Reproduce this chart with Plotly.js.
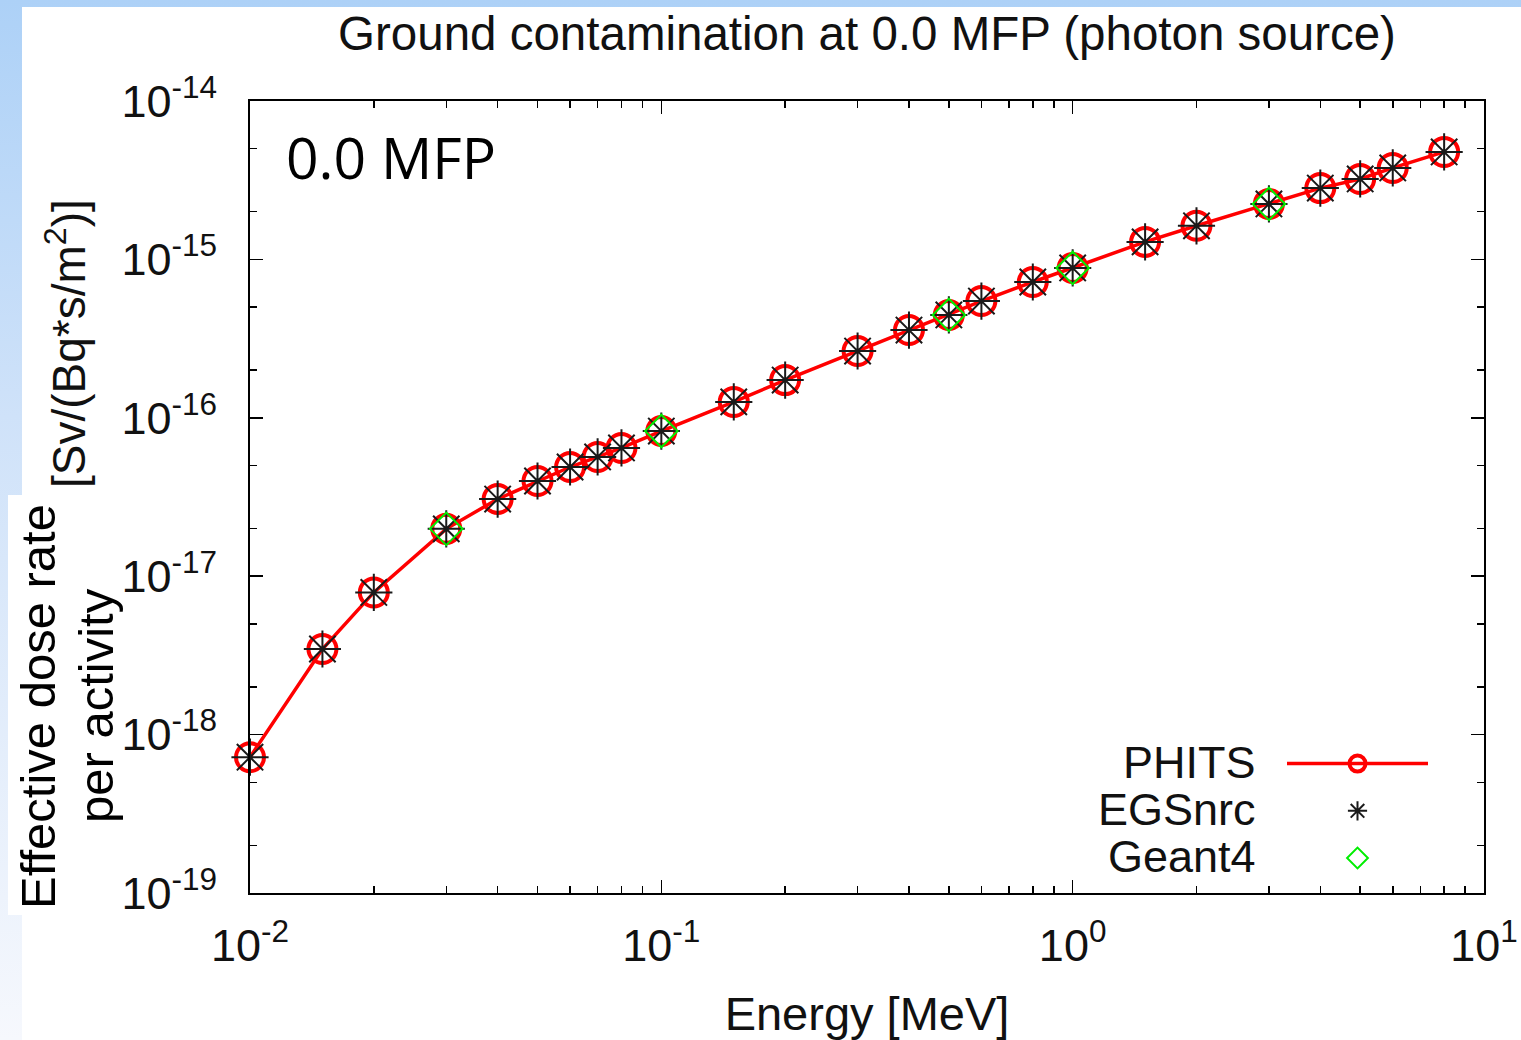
<!DOCTYPE html>
<html>
<head>
<meta charset="utf-8">
<script src="https://cdn.plot.ly/plotly-3.0.1.min.js"></script>
<style>
  html, body { margin: 0; padding: 0; width: 1521px; height: 1040px; overflow: hidden;
    background: linear-gradient(to bottom, #add1f7 0%, #cfe2f9 40%, #f6f8fd 100%); }
  #sheet { position: absolute; left: 22px; top: 7px; width: 1499px; height: 1033px; background: #ffffff; }
  #chart { position: absolute; left: 0; top: 0; width: 1521px; height: 1040px; }
</style>
</head>
<body>
<div id="sheet"></div>
<div id="chart"></div>
<script>
// ---- data ----
const energy = [0.01, 0.015, 0.02, 0.03, 0.04, 0.05, 0.06, 0.07, 0.08, 0.1, 0.15, 0.2, 0.3, 0.4, 0.5, 0.6, 0.8, 1.0, 1.5, 2, 3, 4, 5, 6, 8];
const phits = [7.2e-19, 3.47e-18, 7.9e-18, 1.99e-17, 3.07e-17, 3.99e-17, 4.89e-17, 5.66e-17, 6.45e-17, 8.25e-17, 1.26e-16, 1.73e-16, 2.64e-16, 3.58e-16, 4.46e-16, 5.46e-16, 7.2e-16, 8.83e-16, 1.29e-15, 1.63e-15, 2.24e-15, 2.82e-15, 3.22e-15, 3.78e-15, 4.77e-15];
const egsnrc = [7.2e-19, 3.47e-18, 7.9e-18, 1.99e-17, 3.07e-17, 3.99e-17, 4.89e-17, 5.66e-17, 6.45e-17, 8.25e-17, 1.26e-16, 1.73e-16, 2.64e-16, 3.58e-16, 4.46e-16, 5.46e-16, 7.2e-16, 8.83e-16, 1.29e-15, 1.63e-15, 2.24e-15, 2.82e-15, 3.22e-15, 3.78e-15, 4.77e-15];
const geantEnergy = [0.03, 0.1, 0.5, 1.0, 3.0];
const geant4 = [1.99e-17, 8.25e-17, 4.46e-16, 8.83e-16, 2.24e-15];
const seriesNames = ["PHITS", "EGSnrc", "Geant4"];
const xTickVals = [0.01, 0.1, 1, 10];
const xTickText = ["10<sup>-2</sup>", "10<sup>-1</sup>", "10<sup>0</sup>", "10<sup>1</sup>"];
const yTickVals = [1e-19, 1e-18, 1e-17, 1e-16, 1e-15, 1e-14];
const yTickText = ["10<sup>-19</sup>", "10<sup>-18</sup>", "10<sup>-17</sup>", "10<sup>-16</sup>", "10<sup>-15</sup>", "10<sup>-14</sup>"];
const titleText = "Ground contamination at 0.0 MFP (photon source)";
const xTitle = "Energy [MeV]";
const yTitle = "[Sv/(Bq*s/m<sup>2</sup>)]";
const overlayLine1 = "Effective dose rate";
const overlayLine2 = "per activity";
const panelLabel = "0.0 MFP";

// ---- figure ----
const FONT = "Liberation Sans, Arial, Helvetica, sans-serif";
const INK = "#111111";
const W = 1521, H = 1040, L = 250, R = 37, T = 101, B = 147;
const pw = W - L - R, ph = H - T - B;
const px = v => (v - L) / pw;       // pixel x -> paper x
const py = v => (H - B - v) / ph;   // pixel y -> paper y

const traces = [
  { x: energy, y: phits, name: "\u00a0", type: "scatter", mode: "lines+markers", cliponaxis: false,
    line: { color: "#ff0000", width: 3.5 },
    marker: { symbol: "circle-open", size: 28, color: "#ff0000", line: { width: 4, color: "#ff0000" } } },
  { x: energy, y: egsnrc, name: "\u00a0", type: "scatter", mode: "markers", cliponaxis: false,
    marker: { symbol: "asterisk-open", size: 31, color: "#1a1a1a", line: { width: 2, color: "#1a1a1a" } } },
  { x: geantEnergy, y: geant4, name: "\u00a0", type: "scatter", mode: "markers", cliponaxis: false,
    marker: { symbol: "diamond-open", size: 25, color: "#00ee00", line: { width: 2, color: "#00ee00" } } }
];

const axisCommon = {
  type: "log", showline: true, linecolor: "#000", linewidth: 2, mirror: "ticks",
  ticks: "inside", ticklen: 13, tickwidth: 1.5, tickcolor: "#000",
  showgrid: false, zeroline: false, tickmode: "array",
  tickfont: { family: FONT, size: 45, color: INK }
};

const layout = {
  width: W, height: H,
  margin: { l: L, r: R, t: T, b: B },
  paper_bgcolor: "rgba(0,0,0,0)", plot_bgcolor: "#ffffff",
  showlegend: true,
  title: { text: titleText, font: { family: FONT, size: 47.5, color: INK },
    xref: "paper", x: 0.5, xanchor: "center", yref: "container", y: 1 - 33 / H, yanchor: "middle" },
  xaxis: Object.assign({}, axisCommon, {
    range: [-2, 1], tickvals: xTickVals, ticktext: xTickText, ticklabelstandoff: 12,
    minor: { dtick: "D1", ticks: "inside", ticklen: 7, tickwidth: 1.5, tickcolor: "#000", showgrid: false },
    title: { text: xTitle, font: { family: FONT, size: 47, color: INK }, standoff: 28 }
  }),
  yaxis: Object.assign({}, axisCommon, {
    range: [-19, -14], tickvals: yTickVals, ticktext: yTickText, ticklabelstandoff: 22,
    minor: { dtick: "D2", ticks: "inside", ticklen: 7, tickwidth: 1.5, tickcolor: "#000", showgrid: false }
  }),
  legend: { x: px(1282), y: py(735), xanchor: "left", yanchor: "top",
    bgcolor: "rgba(0,0,0,0)", borderwidth: 0, itemwidth: 141,
    font: { family: FONT, size: 34, color: INK }, tracegroupgap: 0 },
  shapes: [
    { type: "rect", xref: "paper", yref: "paper", x0: px(8), x1: px(116), y0: py(915), y1: py(495),
      fillcolor: "#ffffff", line: { width: 0 }, layer: "above" }
  ],
  annotations: [
    { text: yTitle, textangle: -90, xref: "paper", yref: "paper", x: px(66), y: py(344),
      xanchor: "center", yanchor: "middle", showarrow: false, font: { family: FONT, size: 46, color: INK } },
    { text: overlayLine1, textangle: -90, xref: "paper", yref: "paper", x: px(38), y: py(707),
      xanchor: "center", yanchor: "middle", showarrow: false, font: { family: FONT, size: 49, color: "#000" } },
    { text: overlayLine2, textangle: -90, xref: "paper", yref: "paper", x: px(96), y: py(706),
      xanchor: "center", yanchor: "middle", showarrow: false, font: { family: FONT, size: 49, color: "#000" } },
    { text: panelLabel, xref: "paper", yref: "paper", x: px(284), y: py(157),
      xanchor: "left", yanchor: "middle", showarrow: false, font: { family: "Open Sans, Noto Sans, sans-serif", size: 57, color: "#000" } },
    { text: seriesNames[0], xref: "paper", yref: "paper", x: px(1258), y: py(762),
      xanchor: "right", yanchor: "middle", showarrow: false, font: { family: FONT, size: 45, color: INK } },
    { text: seriesNames[1], xref: "paper", yref: "paper", x: px(1258), y: py(809),
      xanchor: "right", yanchor: "middle", showarrow: false, font: { family: FONT, size: 45, color: INK } },
    { text: seriesNames[2], xref: "paper", yref: "paper", x: px(1258), y: py(856),
      xanchor: "right", yanchor: "middle", showarrow: false, font: { family: FONT, size: 45, color: INK } }
  ]
};

Plotly.newPlot("chart", traces, layout, { displayModeBar: false, staticPlot: true });
</script>
</body>
</html>
